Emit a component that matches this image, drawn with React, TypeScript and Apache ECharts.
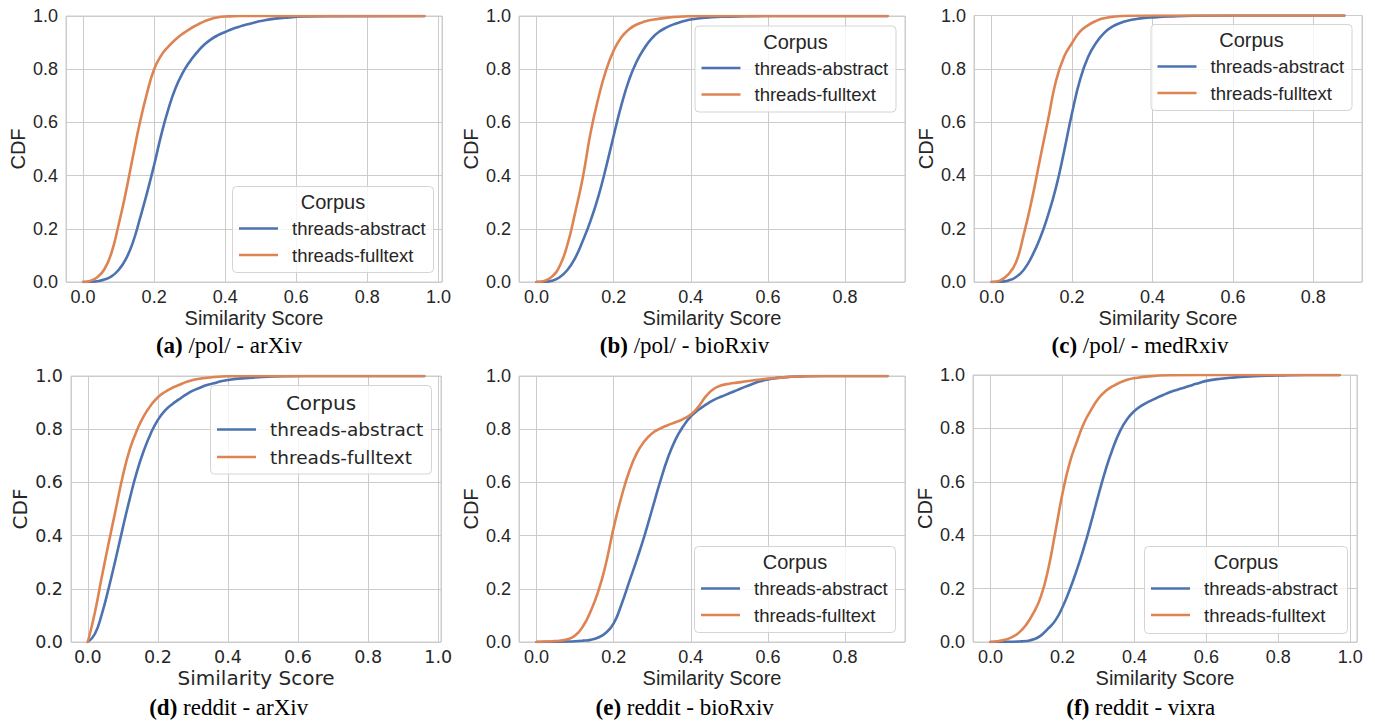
import React, { useEffect, useRef } from 'react';
import * as echarts from 'echarts';

// ---------- DATA ----------
const seriesNames = ['threads-abstract', 'threads-fulltext'];
const xTickValues = [0, 0.2, 0.4, 0.6, 0.8, 1.0];
const yTickValues = [0, 0.2, 0.4, 0.6, 0.8, 1.0];
const captionLetters = ['(a)', '(b)', '(c)', '(d)', '(e)', '(f)'];
const captionTexts = ['/pol/ - arXiv', '/pol/ - bioRxiv', '/pol/ - medRxiv', 'reddit - arXiv', 'reddit - bioRxiv', 'reddit - vixra'];

// (a) /pol/ - arXiv
const aAbsX = [0, 0.02, 0.04, 0.06, 0.08, 0.10, 0.12, 0.14, 0.16, 0.18, 0.20, 0.22, 0.24, 0.26, 0.28, 0.30, 0.32, 0.34, 0.36, 0.38, 0.40, 0.42, 0.44, 0.46, 0.48, 0.50, 0.54, 0.58, 0.62, 0.70, 0.96];
const aAbsY = [0, 0.001, 0.003, 0.009, 0.021, 0.045, 0.085, 0.148, 0.238, 0.335, 0.44, 0.553, 0.65, 0.728, 0.785, 0.828, 0.862, 0.891, 0.912, 0.928, 0.94, 0.951, 0.96, 0.968, 0.975, 0.981, 0.99, 0.995, 0.998, 0.9995, 1];
const aFullX = [0, 0.02, 0.04, 0.06, 0.08, 0.10, 0.12, 0.14, 0.16, 0.18, 0.20, 0.22, 0.24, 0.26, 0.28, 0.30, 0.32, 0.34, 0.36, 0.38, 0.40, 0.44, 0.96];
const aFullY = [0, 0.004, 0.018, 0.048, 0.11, 0.215, 0.335, 0.47, 0.6, 0.71, 0.8, 0.852, 0.885, 0.912, 0.933, 0.951, 0.966, 0.979, 0.989, 0.995, 0.998, 1, 1];

// (b) /pol/ - bioRxiv
const bAbsX = [0, 0.02, 0.04, 0.06, 0.08, 0.10, 0.12, 0.14, 0.16, 0.18, 0.20, 0.22, 0.24, 0.26, 0.28, 0.30, 0.32, 0.34, 0.36, 0.38, 0.40, 0.44, 0.48, 0.54, 0.60, 0.91];
const bAbsY = [0, 0.001, 0.005, 0.018, 0.045, 0.09, 0.155, 0.23, 0.32, 0.43, 0.55, 0.665, 0.76, 0.83, 0.88, 0.918, 0.943, 0.959, 0.971, 0.98, 0.987, 0.994, 0.997, 0.999, 1, 1];
const bFullX = [0, 0.02, 0.04, 0.06, 0.08, 0.10, 0.12, 0.14, 0.16, 0.18, 0.20, 0.22, 0.24, 0.26, 0.28, 0.30, 0.34, 0.38, 0.42, 0.91];
const bFullY = [0, 0.004, 0.02, 0.06, 0.14, 0.26, 0.393, 0.56, 0.69, 0.795, 0.87, 0.92, 0.95, 0.968, 0.979, 0.986, 0.994, 0.998, 1, 1];

// (c) /pol/ - medRxiv
const cAbsX = [0, 0.02, 0.04, 0.06, 0.08, 0.10, 0.12, 0.14, 0.16, 0.18, 0.20, 0.22, 0.24, 0.26, 0.28, 0.30, 0.32, 0.34, 0.36, 0.38, 0.40, 0.44, 0.50, 0.60, 0.877];
const cAbsY = [0, 0.001, 0.005, 0.018, 0.046, 0.096, 0.163, 0.25, 0.355, 0.49, 0.635, 0.76, 0.845, 0.898, 0.935, 0.958, 0.972, 0.981, 0.987, 0.991, 0.993, 0.996, 0.999, 1, 1];
const cFullX = [0, 0.02, 0.04, 0.06, 0.08, 0.10, 0.12, 0.14, 0.16, 0.18, 0.20, 0.22, 0.24, 0.26, 0.28, 0.30, 0.34, 0.40, 0.877];
const cFullY = [0, 0.005, 0.027, 0.072, 0.18, 0.31, 0.46, 0.607, 0.755, 0.845, 0.897, 0.94, 0.964, 0.98, 0.99, 0.995, 0.999, 1, 1];

// (d) reddit - arXiv
const dAbsX = [0, 0.02, 0.04, 0.06, 0.08, 0.10, 0.12, 0.14, 0.16, 0.18, 0.20, 0.22, 0.24, 0.26, 0.28, 0.30, 0.32, 0.34, 0.36, 0.38, 0.40, 0.44, 0.50, 0.56, 0.62, 0.96];
const dAbsY = [0, 0.03, 0.105, 0.205, 0.315, 0.43, 0.54, 0.64, 0.72, 0.785, 0.835, 0.87, 0.893, 0.912, 0.93, 0.945, 0.956, 0.966, 0.973, 0.98, 0.985, 0.991, 0.996, 0.999, 1, 1];
const dFullX = [0, 0.02, 0.04, 0.06, 0.08, 0.10, 0.12, 0.14, 0.16, 0.18, 0.20, 0.22, 0.24, 0.26, 0.28, 0.30, 0.32, 0.36, 0.40, 0.46, 0.96];
const dFullY = [0, 0.11, 0.245, 0.375, 0.5, 0.625, 0.725, 0.795, 0.85, 0.89, 0.92, 0.94, 0.955, 0.966, 0.977, 0.985, 0.99, 0.996, 0.999, 1, 1];

// (e) reddit - bioRxiv
const eAbsX = [0, 0.04, 0.08, 0.10, 0.12, 0.14, 0.16, 0.18, 0.20, 0.22, 0.24, 0.26, 0.28, 0.30, 0.32, 0.34, 0.36, 0.38, 0.40, 0.42, 0.44, 0.46, 0.48, 0.50, 0.52, 0.54, 0.56, 0.58, 0.60, 0.62, 0.64, 0.68, 0.74, 0.91];
const eAbsY = [0, 0.001, 0.002, 0.003, 0.005, 0.008, 0.017, 0.035, 0.07, 0.14, 0.225, 0.31, 0.4, 0.5, 0.6, 0.69, 0.76, 0.81, 0.848, 0.873, 0.893, 0.91, 0.923, 0.935, 0.947, 0.959, 0.97, 0.98, 0.987, 0.992, 0.995, 0.998, 1, 1];
const eFullX = [0, 0.04, 0.06, 0.08, 0.10, 0.12, 0.14, 0.16, 0.18, 0.20, 0.22, 0.24, 0.26, 0.28, 0.30, 0.32, 0.34, 0.36, 0.38, 0.40, 0.42, 0.44, 0.46, 0.48, 0.50, 0.52, 0.54, 0.56, 0.58, 0.60, 0.64, 0.68, 0.74, 0.91];
const eFullY = [0, 0.003, 0.005, 0.01, 0.024, 0.058, 0.115, 0.19, 0.295, 0.43, 0.545, 0.64, 0.71, 0.755, 0.785, 0.802, 0.815, 0.826, 0.838, 0.855, 0.885, 0.925, 0.952, 0.965, 0.971, 0.975, 0.979, 0.983, 0.987, 0.99, 0.995, 0.998, 1, 1];

// (f) reddit - vixra
const fAbsX = [0, 0.04, 0.08, 0.10, 0.12, 0.14, 0.16, 0.18, 0.20, 0.22, 0.24, 0.26, 0.28, 0.30, 0.32, 0.34, 0.36, 0.38, 0.40, 0.42, 0.44, 0.46, 0.48, 0.50, 0.52, 0.54, 0.56, 0.58, 0.60, 0.64, 0.68, 0.72, 0.80, 0.88, 0.97];
const fAbsY = [0, 0.0005, 0.002, 0.004, 0.01, 0.024, 0.05, 0.08, 0.13, 0.195, 0.27, 0.355, 0.45, 0.55, 0.645, 0.725, 0.79, 0.835, 0.865, 0.885, 0.9, 0.913, 0.925, 0.936, 0.945, 0.953, 0.962, 0.97, 0.978, 0.986, 0.991, 0.995, 0.998, 1, 1];
const fFullX = [0, 0.02, 0.04, 0.06, 0.08, 0.10, 0.12, 0.14, 0.16, 0.18, 0.20, 0.22, 0.24, 0.26, 0.28, 0.30, 0.32, 0.34, 0.36, 0.38, 0.40, 0.44, 0.50, 0.58, 0.97];
const fFullY = [0, 0.003, 0.008, 0.018, 0.036, 0.066, 0.11, 0.17, 0.27, 0.41, 0.555, 0.67, 0.75, 0.82, 0.87, 0.912, 0.94, 0.958, 0.972, 0.982, 0.988, 0.995, 0.999, 1, 1];

const panelData = [
  [[aAbsX, aAbsY], [aFullX, aFullY]],
  [[bAbsX, bAbsY], [bFullX, bFullY]],
  [[cAbsX, cAbsY], [cFullX, cFullY]],
  [[dAbsX, dAbsY], [dFullX, dFullY]],
  [[eAbsX, eAbsY], [eFullX, eFullY]],
  [[fAbsX, fAbsY], [fFullX, fFullY]],
];

// ---------- LAYOUT / STYLE ----------
const COLORS = ['#4c72b0', '#dd8452'];
const TEXT = '#262626';
const GRIDC = '#cccccc';
const SANS = 'Liberation Sans, Arial, sans-serif';
const DEJAVU = 'DejaVu Sans, sans-serif';
const LINE_W = 2.6;

const layouts = [
  { left: 66, top: 16, width: 376, height: 266, min: -0.048, max: 1.01, font: SANS, yGap: 38, leg: { x: 232.5, y: 186.5, w: 201, h: 86 }, cap: [229, 345] },
  { left: 519, top: 16, width: 386, height: 266, min: -0.0455, max: 0.9555, font: SANS, yGap: 38, leg: { x: 695, y: 26, w: 201, h: 86 }, cap: [684.5, 345] },
  { left: 974, top: 15.5, width: 388, height: 266.5, min: -0.044, max: 0.921, font: SANS, yGap: 38, leg: { x: 1151, y: 24.5, w: 201, h: 86 }, cap: [1140, 345] },
  { left: 71, top: 376, width: 370, height: 266, min: -0.048, max: 1.008, font: DEJAVU, yGap: 41, leg: { x: 210.5, y: 385.5, w: 221, h: 88.5 }, cap: [228.7, 707] },
  { left: 519, top: 376, width: 386, height: 266, min: -0.0455, max: 0.9555, font: SANS, yGap: 38, leg: { x: 694.5, y: 546.5, w: 201, h: 86 }, cap: [684.7, 707] },
  { left: 973, top: 375, width: 384, height: 267, min: -0.0485, max: 1.0185, font: SANS, yGap: 38, leg: { x: 1144.5, y: 546.5, w: 203, h: 87 }, cap: [1140.7, 707] },
];

const isTick = (v: number, list: number[]) => list.some((t) => Math.abs(t - v) < 1e-6);

export default function App() {
  const ref = useRef<HTMLDivElement>(null);

  useEffect(() => {
    if (!ref.current) return;
    const chart = echarts.init(ref.current, null, { renderer: 'svg' });

    const grids: any[] = [];
    const xAxes: any[] = [];
    const yAxes: any[] = [];
    const series: any[] = [];
    const graphics: any[] = [];

    layouts.forEach((L, i) => {
      const isD = L.font === DEJAVU;
      const tickSize = isD ? 17.5 : 18;
      grids.push({
        left: L.left, top: L.top, width: L.width, height: L.height,
        show: true, borderColor: GRIDC, borderWidth: 1, backgroundColor: '#ffffff',
      });
      xAxes.push({
        gridIndex: i, type: 'value', min: L.min, max: L.max, splitNumber: 5,
        name: 'Similarity Score', nameLocation: 'middle', nameGap: 26,
        nameTextStyle: { fontFamily: L.font, fontSize: 20, color: TEXT },
        axisLine: { show: false }, axisTick: { show: false },
        axisLabel: {
          margin: 6, fontFamily: L.font, fontSize: tickSize, color: TEXT,
          formatter: (v: number) => (isTick(v, xTickValues) ? v.toFixed(1) : ''),
        },
        splitLine: { show: true, lineStyle: { color: GRIDC, width: 1 } },
      });
      yAxes.push({
        gridIndex: i, type: 'value', min: 0, max: 1, interval: 0.2,
        name: 'CDF', nameLocation: 'middle', nameGap: L.yGap,
        nameTextStyle: { fontFamily: L.font, fontSize: 20, color: TEXT },
        axisLine: { show: false }, axisTick: { show: false },
        axisLabel: {
          margin: 8, fontFamily: L.font, fontSize: tickSize, color: TEXT,
          formatter: (v: number) => (isTick(v, yTickValues) ? v.toFixed(1) : ''),
        },
        splitLine: { show: true, lineStyle: { color: GRIDC, width: 1 } },
      });
      panelData[i].forEach(([xs, ys], s) => {
        series.push({
          type: 'line', name: seriesNames[s], xAxisIndex: i, yAxisIndex: i,
          data: xs.map((x, k) => [x, ys[k]]),
          showSymbol: false, symbol: 'none', smooth: 0.5,
          lineStyle: { color: COLORS[s], width: LINE_W, cap: 'round', join: 'round' }, z: 3 + s,
        });
      });

      // legend box
      const g = L.leg;
      const tOff = isD ? 17 : 15.5;
      const e1 = isD ? 44 : 42;
      const e2 = isD ? 71.5 : 68.5;
      graphics.push({
        type: 'rect', z: 100,
        shape: { x: g.x, y: g.y, width: g.w, height: g.h, r: 4 },
        style: { fill: 'rgba(255,255,255,0.8)', stroke: '#d4d4d4', lineWidth: 1 },
      });
      graphics.push({
        type: 'text', z: 101, x: g.x + g.w / 2, y: g.y + tOff,
        style: { text: 'Corpus', fontFamily: L.font, fontSize: 20, fill: TEXT, align: 'center', verticalAlign: 'middle' },
      });
      [e1, e2].forEach((off, s) => {
        graphics.push({
          type: 'line', z: 101,
          shape: { x1: g.x + 6.5, y1: g.y + off, x2: g.x + 45.5, y2: g.y + off },
          style: { stroke: COLORS[s], lineWidth: LINE_W },
        });
        graphics.push({
          type: 'text', z: 101, x: g.x + 59.5, y: g.y + off,
          style: { text: seriesNames[s], fontFamily: L.font, fontSize: 18.5, fill: TEXT, align: 'left', verticalAlign: 'middle' },
        });
      });

      // caption
      graphics.push({
        type: 'text', z: 101, x: L.cap[0], y: L.cap[1],
        style: {
          text: '{b|' + captionLetters[i] + '} ' + captionTexts[i],
          fontFamily: 'Liberation Serif, Times New Roman, serif', fontSize: 23, fill: '#000000',
          align: 'center', verticalAlign: 'middle',
          rich: { b: { fontFamily: 'Liberation Serif, Times New Roman, serif', fontSize: 23, fontWeight: 'bold', fill: '#000000' } },
        },
      });
    });

    chart.setOption({
      animation: false,
      backgroundColor: '#ffffff',
      grid: grids,
      xAxis: xAxes,
      yAxis: yAxes,
      series,
      graphic: graphics,
    });

    return () => chart.dispose();
  }, []);

  return (
    <div
      ref={ref}
      style={{ position: 'absolute', left: 0, top: 0, width: 1375, height: 723, background: '#ffffff' }}
    />
  );
}
